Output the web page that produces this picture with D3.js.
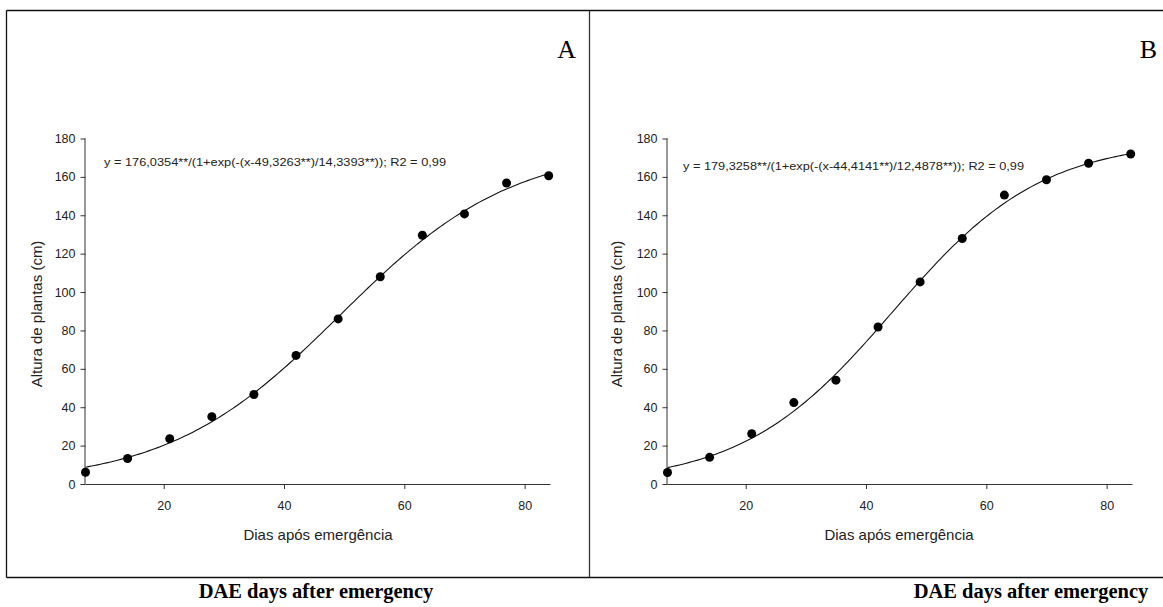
<!DOCTYPE html>
<html>
<head>
<meta charset="utf-8">
<script src="https://cdn.jsdelivr.net/npm/d3@7"></script>
<style>
  body { margin: 0; background: #fff; }
  svg { display: block; }
</style>
</head>
<body>
<svg id="graph"></svg>
<script>
// sampling days (DAE)
var days = [7, 14, 21, 28, 35, 42, 49, 56, 63, 70, 77, 84];
// plant height (cm)
var heightA = [6.1, 13.3, 23.6, 35.1, 46.6, 67.0, 86.0, 108.0, 129.6, 140.7, 156.8, 160.6];
var heightB = [6.0, 13.9, 26.2, 42.4, 54.1, 81.8, 105.3, 127.9, 150.5, 158.5, 167.1, 171.9];
// fitted logistic: a / (1 + exp(-(x - x0) / b))
var fitA = [176.0354, 49.3263, 14.3393];
var fitB = [179.3258, 44.4141, 12.4878];
var eqA = "y = 176,0354**/(1+exp(-(x-49,3263**)/14,3393**)); R2 = 0,99";
var eqB = "y = 179,3258**/(1+exp(-(x-44,4141**)/12,4878**)); R2 = 0,99";
var xTicks = [20, 40, 60, 80];
var yTicks = [0, 20, 40, 60, 80, 100, 120, 140, 160, 180];

var width = 1163, height = 607;
var svg = d3.select("#graph").attr("width", width).attr("height", height);

// outer frame
svg.append("line").attr("x1", 6.5).attr("x2", width).attr("y1", 10.5).attr("y2", 10.5)
    .attr("stroke", "#111").attr("stroke-width", 1.3);
svg.append("line").attr("x1", 6.5).attr("x2", width).attr("y1", 577.5).attr("y2", 577.5)
    .attr("stroke", "#111").attr("stroke-width", 1.3);
svg.append("line").attr("x1", 6.5).attr("x2", 6.5).attr("y1", 10.5).attr("y2", 577.5)
    .attr("stroke", "#111").attr("stroke-width", 1.3);
svg.append("line").attr("x1", 589.5).attr("x2", 589.5).attr("y1", 10.5).attr("y2", 577.5)
    .attr("stroke", "#333").attr("stroke-width", 1.3);

function drawPanel(p) {
    var x = d3.scaleLinear().domain([7, 84.3]).range([p.left, p.left + 465]);
    var y = d3.scaleLinear().domain([0, 180]).range([484, 138.5]);

    var g = svg.append("g");

    var xAxis = g.append("g").attr("transform", "translate(0,484)")
        .call(d3.axisBottom(x).tickValues(xTicks).tickSize(5).tickPadding(12));
    var yAxis = g.append("g").attr("transform", "translate(" + p.left + ",0)")
        .call(d3.axisLeft(y).tickValues(yTicks).tickSize(5).tickPadding(5));

    [xAxis, yAxis].forEach(function(a) {
        a.select(".domain").attr("stroke", "#333");
        a.selectAll(".tick line").attr("stroke", "#333");
        a.selectAll(".tick text").attr("fill", "#222")
            .style("font-family", "Arial, 'Liberation Sans', sans-serif")
            .style("font-size", "12.5px");
    });
    // domain path without outer ticks
    xAxis.select(".domain").attr("d", "M" + x.range()[0] + ",0.5H" + x.range()[1]);
    yAxis.select(".domain").attr("d", "M-0.5," + y.range()[0] + "V" + y.range()[1]);

    // fitted curve from the equation shown on the chart
    var xs = d3.range(7, 84.01, 0.5);
    var line = d3.line()
        .x(function(d) { return x(d); })
        .y(function(d) { return y(p.fit[0] / (1 + Math.exp(-(d - p.fit[1]) / p.fit[2]))); });
    g.append("path").datum(xs).attr("d", line)
        .attr("fill", "none").attr("stroke", "#111").attr("stroke-width", 1.1);

    g.selectAll("circle.pt").data(days).enter().append("circle")
        .attr("class", "pt")
        .attr("cx", function(d) { return x(d); })
        .attr("cy", function(d, i) { return y(p.values[i]); })
        .attr("r", 4.5)
        .attr("fill", "#000");

    g.append("text").attr("x", p.eqX).attr("y", p.eqY)
        .attr("textLength", p.eqW).attr("lengthAdjust", "spacingAndGlyphs")
        .style("font-family", "Arial, 'Liberation Sans', sans-serif")
        .style("font-size", "11.5px").attr("fill", "#222")
        .text(p.eq);

    g.append("text").attr("x", p.xLabelX).attr("y", 540)
        .attr("text-anchor", "middle")
        .style("font-family", "Arial, 'Liberation Sans', sans-serif")
        .style("font-size", "15px").attr("fill", "#222")
        .text("Dias após emergência");

    g.append("text")
        .attr("transform", "translate(" + p.yLabelX + ",314) rotate(-90)")
        .attr("text-anchor", "middle")
        .style("font-family", "Arial, 'Liberation Sans', sans-serif")
        .style("font-size", "15px").attr("fill", "#222")
        .text("Altura de plantas (cm)");

    svg.append("text").attr("x", p.letterX).attr("y", 58)
        .attr("text-anchor", "end")
        .style("font-family", "'Liberation Serif', 'Times New Roman', serif")
        .style("font-size", "26px").attr("fill", "#000")
        .text(p.letter);

    svg.append("text").attr("x", p.captionX).attr("y", 598)
        .attr("text-anchor", "middle")
        .style("font-family", "'Liberation Serif', 'Times New Roman', serif")
        .style("font-weight", "bold")
        .style("font-size", "20.5px").attr("fill", "#000")
        .text("DAE days after emergency");
}

drawPanel({left: 85.5, values: heightA, fit: fitA, eq: eqA, eqX: 104, eqY: 166, eqW: 342,
    xLabelX: 318, yLabelX: 42, letter: "A", letterX: 576, captionX: 316});
drawPanel({left: 667.5, values: heightB, fit: fitB, eq: eqB, eqX: 683, eqY: 170, eqW: 341,
    xLabelX: 899, yLabelX: 622, letter: "B", letterX: 1157, captionX: 1031});
</script>
</body>
</html>
